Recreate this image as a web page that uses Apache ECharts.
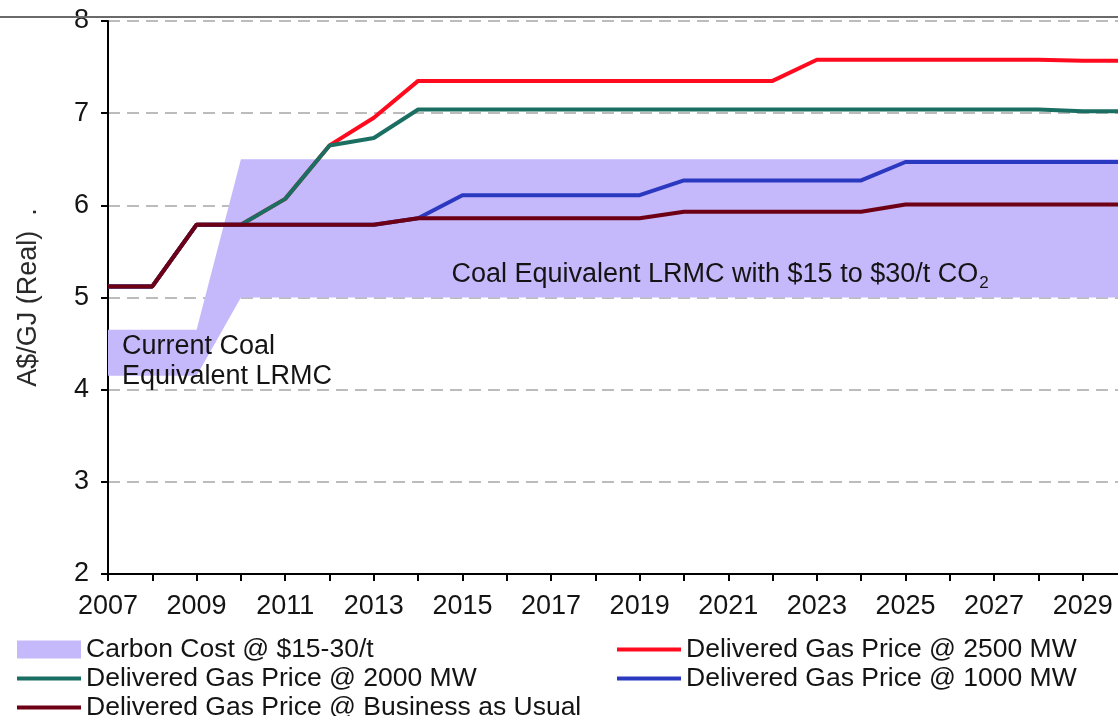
<!DOCTYPE html>
<html>
<head>
<meta charset="utf-8">
<script src="https://cdn.jsdelivr.net/npm/echarts@6/dist/echarts.min.js"></script>
<style>
html,body{margin:0;padding:0;background:#ffffff;}
#chart{width:1118px;height:716px;}
</style>
</head>
<body>
<div id="chart"></div>
<script>
// ---- data ----
const years = ['2007','2008','2009','2010','2011','2012','2013','2014','2015','2016','2017','2018','2019','2020','2021','2022','2023','2024','2025','2026','2027','2028','2029','2030'];
const bandLow  = [4.15,4.15,4.15,5.0,5.0,5.0,5.0,5.0,5.0,5.0,5.0,5.0,5.0,5.0,5.0,5.0,5.0,5.0,5.0,5.0,5.0,5.0,5.0,5.0];
const bandHigh = [4.65,4.65,4.65,6.5,6.5,6.5,6.5,6.5,6.5,6.5,6.5,6.5,6.5,6.5,6.5,6.5,6.5,6.5,6.5,6.5,6.5,6.5,6.5,6.5];
const gas2500 = [5.12,5.12,5.79,5.79,6.07,6.65,6.95,7.35,7.35,7.35,7.35,7.35,7.35,7.35,7.35,7.35,7.58,7.58,7.58,7.58,7.58,7.58,7.57,7.57];
const gas2000 = [5.12,5.12,5.79,5.79,6.07,6.65,6.73,7.04,7.04,7.04,7.04,7.04,7.04,7.04,7.04,7.04,7.04,7.04,7.04,7.04,7.04,7.04,7.02,7.02];
const gas1000 = [5.12,5.12,5.79,5.79,5.79,5.79,5.79,5.86,6.11,6.11,6.11,6.11,6.11,6.27,6.27,6.27,6.27,6.27,6.47,6.47,6.47,6.47,6.47,6.47];
const gasBAU  = [5.12,5.12,5.79,5.79,5.79,5.79,5.79,5.86,5.86,5.86,5.86,5.86,5.86,5.93,5.93,5.93,5.93,5.93,6.01,6.01,6.01,6.01,6.01,6.01];

const seriesNames = {
  band: 'Carbon Cost @ $15-30/t',
  g2500: 'Delivered Gas Price @ 2500 MW',
  g2000: 'Delivered Gas Price @ 2000 MW',
  g1000: 'Delivered Gas Price @ 1000 MW',
  bau: 'Delivered Gas Price @ Business as Usual'
};
const yAxisName = 'A$/GJ (Real)  .';
const bandNote = 'Coal Equivalent LRMC with $15 to $30/t CO';
const currentNote = 'Current Coal\nEquivalent LRMC';

// ---- styles ----
const FONT = '"Liberation Sans", Arial, Helvetica, sans-serif';
const TXT = '#141414';
const FS = 27;
const C_BAND = '#c5b9fb';
const C_RED = '#ff0a1e';
const C_TEAL = '#1b6f62';
const C_BLUE = '#2b38c0';
const C_BAU = '#6e0016';
const LINE_ICON = 'path://M0,0L64,0L64,4L0,4Z';

const bandSpan = bandHigh.map((h, i) => Math.round((h - bandLow[i]) * 1000) / 1000);

const lineSeries = (name, arr, color) => ({
  name: name, type: 'line', data: arr, symbol: 'none', showSymbol: false,
  color: color, lineStyle: { color: color, width: 4 }, silent: true, animation: false
});

const legendBox = (left, top, item) => ({
  left: left, top: top, padding: 0, orient: 'horizontal',
  itemWidth: 64, itemHeight: 18, itemGap: 0, selectedMode: false,
  textStyle: { fontFamily: FONT, fontSize: 26.5, color: TXT },
  data: [item]
});

const chart = echarts.init(document.getElementById('chart'), null, { renderer: 'canvas' });
chart.setOption({
  backgroundColor: '#ffffff',
  animation: false,
  textStyle: { fontFamily: FONT, color: TXT },
  grid: { left: 108, right: -9, top: 21, bottom: 142, containLabel: false, outerBoundsMode: 'none' },
  graphic: [{
    type: 'line', silent: true, z: 100,
    shape: { x1: 0, y1: 17, x2: 1118, y2: 17 },
    style: { stroke: '#6a6a6a', lineWidth: 2 }
  }],
  legend: [
    legendBox(17, 636, { name: seriesNames.band, icon: 'rect', itemStyle: { color: C_BAND, borderWidth: 0 } }),
    legendBox(617, 636, { name: seriesNames.g2500, icon: LINE_ICON, itemStyle: { color: C_RED, borderWidth: 0 } }),
    legendBox(17, 665, { name: seriesNames.g2000, icon: LINE_ICON, itemStyle: { color: C_TEAL, borderWidth: 0 } }),
    legendBox(617, 665, { name: seriesNames.g1000, icon: LINE_ICON, itemStyle: { color: C_BLUE, borderWidth: 0 } }),
    legendBox(17, 694, { name: seriesNames.bau, icon: LINE_ICON, itemStyle: { color: C_BAU, borderWidth: 0 } })
  ],
  xAxis: {
    type: 'category', data: years, boundaryGap: false,
    axisLine: { show: true, onZero: false, lineStyle: { color: '#000', width: 2 } },
    axisTick: { show: true, interval: 0, length: 7, lineStyle: { color: '#000', width: 2 } },
    splitLine: { show: false },
    axisLabel: { show: true, interval: 1, margin: 19, fontSize: FS, fontFamily: FONT, color: TXT }
  },
  yAxis: {
    type: 'value', min: 2, max: 8, interval: 1,
    name: yAxisName, nameLocation: 'middle', nameGap: 66,
    nameTextStyle: { fontSize: FS, fontFamily: FONT, color: '#2a2a2a' },
    axisLine: { show: true, lineStyle: { color: '#000', width: 2 } },
    axisTick: { show: true, length: 7, lineStyle: { color: '#000', width: 2 } },
    axisLabel: { margin: 19, fontSize: FS, fontFamily: FONT, color: TXT },
    splitLine: { show: true, lineStyle: { color: '#bcbcbc', width: 2, type: [12, 7] } }
  },
  series: [
    {
      name: '__bandBase', type: 'line', stack: 'band', data: bandLow,
      symbol: 'none', lineStyle: { width: 0, opacity: 0 }, silent: true, animation: false
    },
    {
      name: seriesNames.band, type: 'line', stack: 'band', data: bandSpan,
      symbol: 'none', color: C_BAND, itemStyle: { color: C_BAND },
      lineStyle: { width: 0, opacity: 0 }, areaStyle: { color: C_BAND, opacity: 1 },
      silent: true, animation: false,
      markPoint: {
        symbol: 'circle', symbolSize: 0, silent: true, animation: false,
        data: [
          {
            coord: ['2015', 5.27],
            label: {
              show: true, position: 'right', distance: 0, offset: [-11, 0],
              formatter: '{t|' + bandNote + '}{s|2}',
              rich: {
                t: { fontSize: FS, fontFamily: FONT, color: TXT, lineHeight: 30, verticalAlign: 'bottom' },
                s: { fontSize: 17, fontFamily: FONT, color: TXT, lineHeight: 17, verticalAlign: 'bottom', padding: [0, 0, -4, 1] }
              }
            }
          },
          {
            coord: ['2007', 4.31],
            label: {
              show: true, position: 'right', distance: 0, offset: [14, 0], align: 'left',
              formatter: currentNote, fontSize: FS, fontFamily: FONT, color: TXT, lineHeight: 30
            }
          }
        ]
      }
    },
    lineSeries(seriesNames.g2500, gas2500, C_RED),
    lineSeries(seriesNames.g2000, gas2000, C_TEAL),
    lineSeries(seriesNames.g1000, gas1000, C_BLUE),
    lineSeries(seriesNames.bau, gasBAU, C_BAU)
  ]
});
</script>
</body>
</html>
